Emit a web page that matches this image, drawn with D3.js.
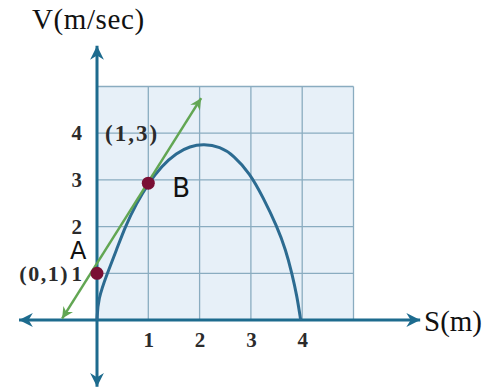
<!DOCTYPE html>
<html>
<head>
<meta charset="utf-8">
<script src="https://cdn.jsdelivr.net/npm/d3@7"></script>
<style>
  body { margin: 0; background: #fff; }
  svg { display: block; }
</style>
</head>
<body>
<script>
// velocity-distance curve (s in m, v in m/sec)
var curveS = [0, 0.02, 0.2, 0.38, 0.55, 0.77, 1.0, 1.26, 1.55, 1.81, 2.08, 2.4, 2.66, 2.98, 3.24, 3.51, 3.68, 3.8, 3.9, 3.97]
var curveV = [0, 0.45, 1, 1.5, 2, 2.5, 2.92, 3.3, 3.58, 3.72, 3.77, 3.71, 3.53, 3.14, 2.62, 2.0, 1.5, 1.0, 0.5, 0]

// tangent line at B, drawn with arrows at both ends
var tangentS = [-0.68, 2.03]
var tangentV = [0.03, 4.75]

// the two marked points
var pointNames = ["A", "B"]
var pointS = [0, 1]
var pointV = [1, 2.93]

var xTicks = [1, 2, 3, 4]
var yTicks = [1, 2, 3, 4]
var gridCells = [0, 1, 2, 3, 4, 5]

var w = 500, h = 389

var x = d3.scaleLinear().domain([0, 5]).range([97, 353.5])
var y = d3.scaleLinear().domain([0, 5]).range([320, 86.5])

var axisColor = "#1d6b8e",
    gridColor = "#8aacc0",
    curveColor = "#2c6b91",
    greenColor = "#62a653",
    dotColor = "#7a0f34"
var serif = "'Liberation Serif', 'DejaVu Serif', serif"

var svg = d3.select("body").append("svg")
    .attr("width", w)
    .attr("height", h)

// arrow heads
var defs = svg.append("defs")
function arrowMarker(id, color, size) {
  defs.append("marker")
    .attr("id", id)
    .attr("viewBox", "-14 -8 16 16")
    .attr("refX", 0).attr("refY", 0)
    .attr("markerWidth", size).attr("markerHeight", size)
    .attr("markerUnits", "userSpaceOnUse")
    .attr("orient", "auto-start-reverse")
    .append("path")
    .attr("d", "M0,0 L-13,-6.5 L-9,0 L-13,6.5 Z")
    .attr("fill", color)
}
arrowMarker("arrAxis", axisColor, 17)
arrowMarker("arrGreen", greenColor, 14)

// grid background
svg.append("rect")
  .attr("x", x(0)).attr("y", y(5))
  .attr("width", x(5) - x(0)).attr("height", y(0) - y(5))
  .attr("fill", "#e7f0f8")

svg.append("g").selectAll("line")
  .data(gridCells).enter().append("line")
  .attr("x1", function(d) { return x(d) }).attr("x2", function(d) { return x(d) })
  .attr("y1", y(0)).attr("y2", y(5))
  .attr("stroke", gridColor).attr("stroke-width", 1.3)

svg.append("g").selectAll("line")
  .data(gridCells).enter().append("line")
  .attr("x1", x(0)).attr("x2", x(5))
  .attr("y1", function(d) { return y(d) }).attr("y2", function(d) { return y(d) })
  .attr("stroke", gridColor).attr("stroke-width", 1.3)

// axes with arrows on both ends
svg.append("line")
  .attr("x1", x(-1.52)).attr("x2", x(6.3))
  .attr("y1", y(0)).attr("y2", y(0))
  .attr("stroke", axisColor).attr("stroke-width", 3)
  .attr("marker-start", "url(#arrAxis)")
  .attr("marker-end", "url(#arrAxis)")

svg.append("line")
  .attr("x1", x(0)).attr("x2", x(0))
  .attr("y1", y(-1.43)).attr("y2", y(5.87))
  .attr("stroke", axisColor).attr("stroke-width", 3)
  .attr("marker-start", "url(#arrAxis)")
  .attr("marker-end", "url(#arrAxis)")

// tick labels
var xAxis = svg.append("g")
  .attr("transform", "translate(0," + y(0) + ")")
  .call(d3.axisBottom(x).tickValues(xTicks).tickSize(0).tickPadding(12).tickFormat(d3.format("d")))
xAxis.select(".domain").remove()

var yAxis = svg.append("g")
  .attr("transform", "translate(" + x(0) + ",0)")
  .call(d3.axisLeft(y).tickValues(yTicks).tickSize(0).tickPadding(15).tickFormat(d3.format("d")))
yAxis.select(".domain").remove()

svg.selectAll(".tick text")
  .attr("fill", "#2b2b2b")
  .style("font-family", serif)
  .style("font-weight", "bold")
  .style("font-size", "21px")

// the curve
var curveData = curveS.map(function(s, i) { return {s: s, v: curveV[i]} })
var line = d3.line()
  .x(function(d) { return x(d.s) })
  .y(function(d) { return y(d.v) })
  .curve(d3.curveBasis)

svg.append("path")
  .datum(curveData)
  .attr("d", line)
  .attr("fill", "none")
  .attr("stroke", curveColor)
  .attr("stroke-width", 3)

// tangent
var tangentData = tangentS.map(function(s, i) { return {s: s, v: tangentV[i]} })
svg.append("path")
  .datum(tangentData)
  .attr("d", d3.line().x(function(d) { return x(d.s) }).y(function(d) { return y(d.v) }))
  .attr("fill", "none")
  .attr("stroke", greenColor)
  .attr("stroke-width", 2.5)
  .attr("marker-start", "url(#arrGreen)")
  .attr("marker-end", "url(#arrGreen)")

// points
var pts = pointNames.map(function(n, i) { return {name: n, s: pointS[i], v: pointV[i]} })
svg.append("g").selectAll("circle")
  .data(pts).enter().append("circle")
  .attr("cx", function(d) { return x(d.s) })
  .attr("cy", function(d) { return y(d.v) })
  .attr("r", 6.5)
  .attr("fill", dotColor)

// point names
svg.append("text").text("A")
  .attr("x", x(0) - 27).attr("y", y(1) - 14)
  .style("font-family", "'DejaVu Sans', sans-serif")
  .style("font-size", "24px")
  .attr("fill", "#111")

svg.append("text").text("B")
  .attr("x", x(1) + 24).attr("y", y(3) + 17)
  .style("font-family", "'DejaVu Sans', sans-serif")
  .style("font-size", "26px")
  .attr("fill", "#111")

// coordinates
svg.append("text").text("(0,1)")
  .attr("x", x(0) - 28).attr("y", y(1) + 8)
  .attr("text-anchor", "end")
  .style("font-family", serif).style("font-weight", "bold").style("font-size", "22px")
  .style("letter-spacing", "1.5px")
  .attr("fill", "#2b2b2b")

svg.append("text").text("(1,3)")
  .attr("x", 105).attr("y", y(4) + 8)
  .style("font-family", serif).style("font-weight", "bold").style("font-size", "23px")
  .style("letter-spacing", "2px")
  .attr("fill", "#2b2b2b")

// axis titles
svg.append("text").text("V(m/sec)")
  .attr("x", 32).attr("y", 29)
  .style("font-family", serif).style("font-size", "29px")
  .style("letter-spacing", "0.6px")
  .attr("fill", "#111")

svg.append("text").text("S(m)")
  .attr("x", 424).attr("y", 331)
  .style("font-family", serif).style("font-size", "29px")
  .attr("fill", "#111")
</script>
</body>
</html>
